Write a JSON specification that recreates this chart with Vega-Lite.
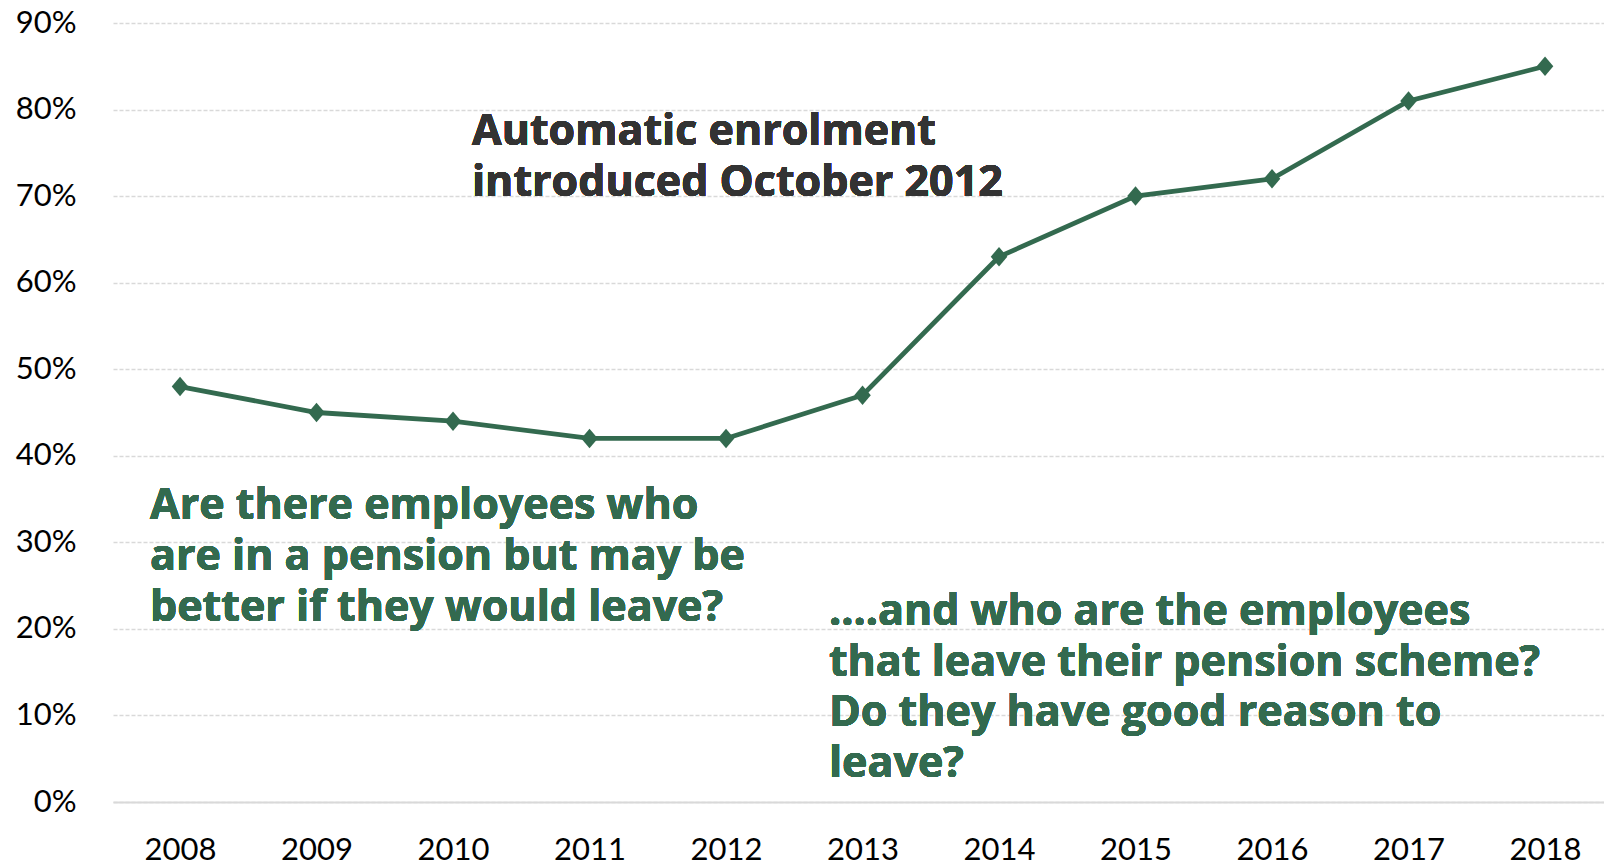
{
  "$schema": "https://vega.github.io/schema/vega-lite/v6.json",
  "width": 1491,
  "height": 779,
  "autosize": {"type": "none"},
  "padding": {"left": 113, "top": 23, "right": 0, "bottom": 65},
  "background": "white",
  "config": {
    "view": {"stroke": null},
    "font": "Lato"
  },
  "data": {
    "values": [
      {"year": 2008, "share": 48},
      {"year": 2009, "share": 45},
      {"year": 2010, "share": 44},
      {"year": 2011, "share": 42},
      {"year": 2012, "share": 42},
      {"year": 2013, "share": 47},
      {"year": 2014, "share": 63},
      {"year": 2015, "share": 70},
      {"year": 2016, "share": 72},
      {"year": 2017, "share": 81},
      {"year": 2018, "share": 85}
    ]
  },
  "encoding": {
    "x": {
      "field": "year",
      "type": "quantitative",
      "scale": {"domain": [2007.509, 2018.432], "nice": false, "zero": false},
      "axis": {
        "title": null,
        "values": [2008, 2009, 2010, 2011, 2012, 2013, 2014, 2015, 2016, 2017, 2018],
        "format": "d",
        "grid": false,
        "ticks": false,
        "tickSize": 0,
        "domain": true,
        "domainColor": "#d9d9d9",
        "domainWidth": 2,
        "labelFont": "Lato",
        "labelFontSize": 31,
        "labelColor": "#000000",
        "labelPadding": 33,
        "labelFlush": false,
        "labelOverlap": false
      }
    },
    "y": {
      "field": "share",
      "type": "quantitative",
      "scale": {"domain": [0, 90], "nice": false},
      "axis": {
        "title": null,
        "values": [0, 10, 20, 30, 40, 50, 60, 70, 80, 90],
        "labelExpr": "datum.value + '%'",
        "grid": true,
        "gridColor": "#d9d9d9",
        "gridDash": [4, 2],
        "gridWidth": 1.5,
        "ticks": false,
        "tickSize": 0,
        "domain": false,
        "labelFont": "Lato",
        "labelFontSize": 31,
        "labelColor": "#000000",
        "labelPadding": 37,
        "labelFlush": false,
        "labelOverlap": false
      }
    }
  },
  "layer": [
    {
      "mark": {"type": "line", "color": "#336a4f", "strokeWidth": 4.8},
      "encoding": {}
    },
    {
      "mark": {"type": "point", "shape": "M-0.85,0L0,-1L0.85,0L0,1Z", "filled": true, "size": 380, "color": "#336a4f", "opacity": 1}
    },
    {
      "mark": {
        "type": "text",
        "text": ["Automatic enrolment", "introduced October 2012"],
        "font": "Open Sans",
        "fontWeight": 700,
        "fontSize": 43,
        "lineHeight": 51,
        "align": "left",
        "baseline": "alphabetic",
        "color": "#333333"
      },
      "encoding": {
        "x": {"datum": 2010.139, "type": "quantitative"},
        "y": {"datum": 75.95, "type": "quantitative"}
      }
    },
    {
      "mark": {
        "type": "text",
        "text": ["Are there employees who", "are in a pension but may be", "better if they would leave?"],
        "font": "Open Sans",
        "fontWeight": 700,
        "fontSize": 43,
        "lineHeight": 51,
        "align": "left",
        "baseline": "alphabetic",
        "color": "#336a4f"
      },
      "encoding": {
        "x": {"datum": 2007.78, "type": "quantitative"},
        "y": {"datum": 32.75, "type": "quantitative"}
      }
    },
    {
      "mark": {
        "type": "text",
        "text": ["....and who are the employees", "that leave their pension scheme?", "Do they have good reason to", "leave?"],
        "font": "Open Sans",
        "fontWeight": 700,
        "fontSize": 43,
        "lineHeight": 50.5,
        "align": "left",
        "baseline": "alphabetic",
        "color": "#336a4f"
      },
      "encoding": {
        "x": {"datum": 2012.754, "type": "quantitative"},
        "y": {"datum": 20.4, "type": "quantitative"}
      }
    }
  ]
}
